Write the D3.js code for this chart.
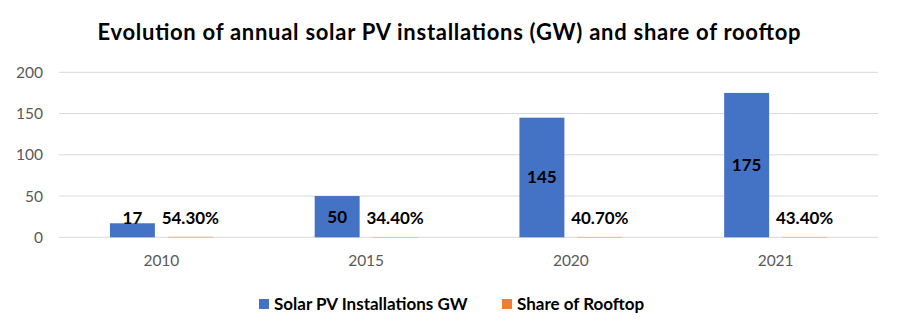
<!DOCTYPE html>
<html><head><meta charset="utf-8">
<script src="https://cdn.jsdelivr.net/npm/d3@7"></script>
<style>body{margin:0;background:#fff;} svg{display:block;}</style>
</head><body>
<svg id="c" width="900" height="334"></svg>
<script>
const title = "Evolution of annual solar PV installations (GW) and share of rooftop";
const categories = ["2010", "2015", "2020", "2021"];
const seriesNames = ["Solar PV Installations GW", "Share of Rooftop"];
const installations = [17, 50, 145, 175];
const rooftopShare = [0.543, 0.344, 0.407, 0.434];
const yTicks = [0, 50, 100, 150, 200];
const colors = ["#4472C4", "#ED7D31"];

const svg = d3.select("#c");
const font = "Lato, 'Open Sans', sans-serif";
const plotLeft = 59, plotRight = 878, plotTop = 72.3, plotBottom = 237.3;

const x = d3.scaleBand().domain(categories).range([plotLeft, plotRight]);
const xs = d3.scaleBand().domain(seriesNames).range([0, x.bandwidth()]).paddingInner(0.224).paddingOuter(0.879);
const y = d3.scaleLinear().domain([0, 200]).range([plotBottom, plotTop]);

// gridlines
svg.append("g").selectAll("line").data(yTicks).join("line")
  .attr("x1", plotLeft).attr("x2", plotRight)
  .attr("y1", d => y(d)).attr("y2", d => y(d))
  .attr("stroke", "#d9d9d9").attr("stroke-width", 1);

// y axis
const yAxis = svg.append("g").attr("transform", `translate(${plotLeft},0)`)
  .call(d3.axisLeft(y).tickValues(yTicks).tickSize(0).tickPadding(16));
yAxis.select(".domain").remove();
yAxis.selectAll("text").attr("font-family", font).attr("font-size", 15.5).attr("fill", "#595959");

// x axis
const xAxis = svg.append("g").attr("transform", `translate(0,${plotBottom})`)
  .call(d3.axisBottom(x).tickSize(0).tickPadding(18));
xAxis.select(".domain").remove();
xAxis.selectAll("text").attr("font-family", font).attr("font-size", 15.5).attr("fill", "#595959");

const rows = categories.map((c, i) => [
  {cat: c, s: seriesNames[0], v: installations[i], label: String(installations[i]), color: colors[0]},
  {cat: c, s: seriesNames[1], v: rooftopShare[i], label: (rooftopShare[i] * 100).toFixed(2) + "%", color: colors[1]}
]).flat();

svg.append("g").selectAll("rect").data(rows).join("rect")
  .attr("x", d => x(d.cat) + xs(d.s))
  .attr("width", xs.bandwidth())
  .attr("y", d => y(d.v))
  .attr("height", d => y(0) - y(d.v))
  .attr("fill", d => d.color);

svg.append("g").selectAll("text").data(rows).join("text")
  .attr("x", d => x(d.cat) + xs(d.s) + xs.bandwidth() / 2)
  .attr("y", d => Math.min((y(d.v) + y(0)) / 2, y(0) - 19))
  .attr("dy", "0.35em")
  .attr("text-anchor", "middle")
  .attr("font-family", font).attr("font-weight", "bold").attr("font-size", 17)
  .attr("fill", "#000")
  .text(d => d.label);

// title
svg.append("text").attr("x", 449).attr("y", 40).attr("text-anchor", "middle")
  .attr("font-family", font).attr("font-weight", "bold").attr("font-size", 22)
  .attr("textLength", 703).attr("lengthAdjust", "spacing")
  .attr("fill", "#000").text(title);

// legend
const legendX = [259, 502];
const lg = svg.append("g").selectAll("g").data(seriesNames).join("g")
  .attr("transform", (d, i) => `translate(${legendX[i]},299)`);
lg.append("rect").attr("width", 10).attr("height", 10).attr("fill", (d, i) => colors[i]);
lg.append("text").attr("x", 15).attr("y", 5).attr("dy", "0.35em")
  .attr("font-family", font).attr("font-weight", "bold").attr("font-size", 17)
  .attr("fill", "#000").text(d => d);
</script>
</body></html>
